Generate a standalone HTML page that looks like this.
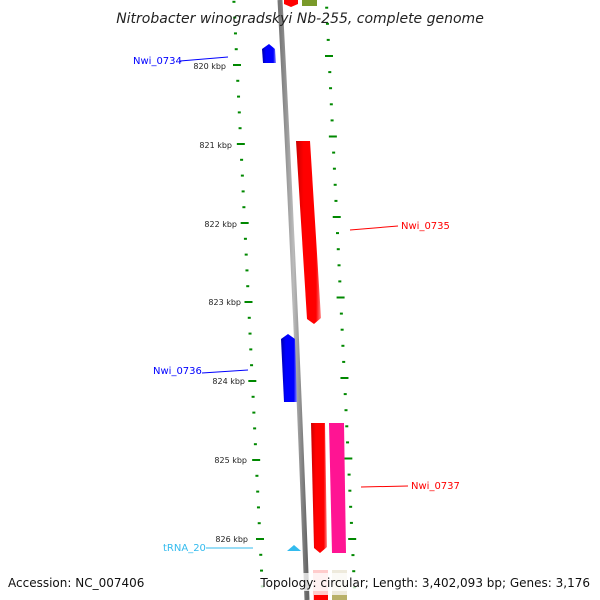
<!DOCTYPE html>
<html><head><style>
html,body{margin:0;padding:0;background:#fff;width:600px;height:600px;overflow:hidden;}
svg{display:block;font-family:"DejaVu Sans","Liberation Sans",sans-serif;}
</style></head><body>
<svg id="s" width="600" height="600" viewBox="0 0 600 600" xmlns="http://www.w3.org/2000/svg">
<defs>
<linearGradient id="gr" x1="0" x2="1"><stop offset="0" stop-color="#c00"/><stop offset="0.3" stop-color="#f00"/><stop offset="0.8" stop-color="#f00"/><stop offset="1" stop-color="#f88"/></linearGradient>
<linearGradient id="gb" x1="0" x2="1"><stop offset="0" stop-color="#00a"/><stop offset="0.3" stop-color="#00f"/><stop offset="0.8" stop-color="#00f"/><stop offset="1" stop-color="#88f"/></linearGradient>
<linearGradient id="gg" x1="0" x2="1"><stop offset="0" stop-color="#777"/><stop offset="0.5" stop-color="#bbb"/><stop offset="1" stop-color="#666"/></linearGradient>
</defs>
<g id="ticks"></g>
<path d="M280,0 Q296,300 307,600" stroke="url(#gg)" stroke-width="5" fill="none"/>
<polygon points="284,0 298,0 298,4 291,7 284,4" fill="#f00"/>
<rect x="302" y="0" width="15" height="6" fill="#7a9a2a"/>
<polygon points="262,49 269,44 275,49 276,63 263,63" fill="url(#gb)"/>
<polygon points="296,141 310,141 321,318 314,324 307,319" fill="url(#gr)"/>
<polygon points="281,339 288,334 295,339 297,402 284,402" fill="url(#gb)"/>
<polygon points="311,423 325,423 327,547 320,553 314,548" fill="url(#gr)"/>
<polygon points="329,423 344,423 346,553 332,553" fill="#ff1493"/>
<polygon points="287,551 294,545 301,551" fill="#33bbee"/>
<rect x="313" y="570" width="15" height="30" fill="#fcc"/>
<rect x="314" y="595" width="14" height="5" fill="#f00"/>
<rect x="332" y="570" width="15" height="30" fill="#eeeadc"/>
<rect x="332" y="595" width="15" height="5" fill="#b8b068"/>
<g font-size="10">
<line x1="180" y1="61" x2="228" y2="57" stroke="#00f"/><text x="133" y="64" fill="#00f">Nwi_0734</text>
<line x1="350" y1="230" x2="398" y2="226" stroke="#f00"/><text x="401" y="229" fill="#f00">Nwi_0735</text>
<line x1="202" y1="373" x2="248" y2="370" stroke="#00f"/><text x="153" y="374" fill="#00f">Nwi_0736</text>
<line x1="361" y1="487" x2="408" y2="486" stroke="#f00"/><text x="411" y="489" fill="#f00">Nwi_0737</text>
<line x1="206" y1="548" x2="253" y2="548" stroke="#33bbee"/><text x="163" y="551" fill="#33bbee">tRNA_20</text>
</g>
<g font-size="8" fill="#222" text-anchor="end">
<text x="226" y="69">820 kbp</text><text x="232" y="148">821 kbp</text><text x="237" y="227">822 kbp</text><text x="241" y="305">823 kbp</text><text x="245" y="384">824 kbp</text><text x="247" y="463">825 kbp</text><text x="248" y="542">826 kbp</text>
</g>
<text x="300" y="23" font-size="14" font-style="italic" text-anchor="middle" fill="#222">Nitrobacter winogradskyi Nb-255, complete genome</text>
<rect x="0" y="573" width="600" height="18" fill="#fff" opacity="0.75"/>
<text x="8" y="587" font-size="12" fill="#111">Accession: NC_007406</text>
<text x="590" y="587" font-size="12" fill="#111" text-anchor="end">Topology: circular; Length: 3,402,093 bp; Genes: 3,176</text>
</svg>
<script>
var g=document.getElementById('ticks'),h='';
for(var i=-4;i<35;i++){var y=65+i*15.8;var x=237+(y-65)*0.0485;var maj=(i%5==0);
h+='<rect x="'+(maj?x-4:x-1.5)+'" y="'+(y-1)+'" width="'+(maj?8:3)+'" height="2" fill="#080"/>';}
for(var i=-4;i<35;i++){var y=56+i*16.1;var x=329+(y-56)*0.048;var maj=(i%5==0);
h+='<rect x="'+(maj?x-4:x-1.5)+'" y="'+(y-1)+'" width="'+(maj?8:3)+'" height="2" fill="#080"/>';}
g.innerHTML=h;
</script>
</body></html>
